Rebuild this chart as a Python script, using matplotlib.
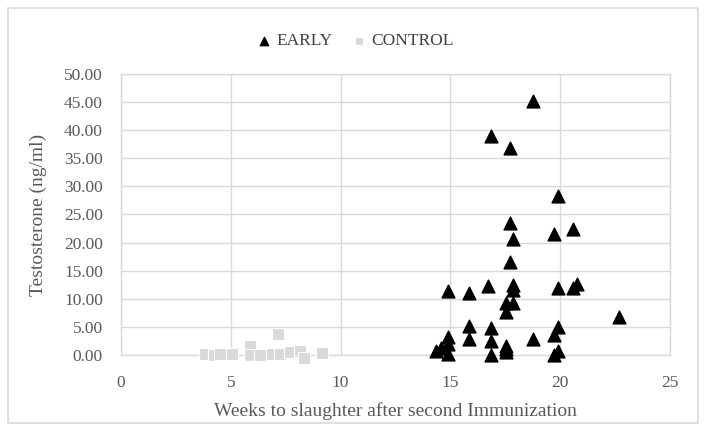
import numpy as np
from matplotlib import pyplot as plt
from matplotlib.patches import Rectangle

# EARLY group (weeks, testosterone ng/ml)
early_weeks = [18.75, 16.83, 17.73, 19.88, 17.73, 17.87, 19.70, 20.57, 17.73,
               14.88, 15.86, 16.71, 17.87, 17.87, 19.88, 20.60, 20.75,
               17.53, 17.87, 17.53, 22.70, 15.86, 16.83, 19.88, 19.70,
               18.75, 15.86, 16.83, 14.88, 14.88, 14.55, 14.35, 14.90,
               17.53, 17.53, 17.53, 16.83, 19.88, 19.70]
early_testo = [45.2, 39.0, 36.8, 28.2, 23.4, 20.6, 21.6, 22.5, 16.5,
               11.4, 11.0, 12.2, 12.4, 11.6, 12.0, 11.9, 12.6,
               9.3, 9.3, 7.7, 6.7, 5.2, 4.9, 5.0, 3.5,
               2.8, 2.8, 2.5, 3.3, 1.9, 1.3, 0.7, 0.2,
               1.7, 1.0, 0.5, 0.0, 0.7, 0.0]

# CONTROL group
control_weeks = [3.83, 4.23, 4.51, 5.04, 5.87, 5.87, 6.33, 6.86, 7.17, 7.24,
                 7.70, 8.15, 8.33, 9.14]
control_testo = [0.2, 0.0, 0.2, 0.2, 1.7, 0.0, 0.0, 0.2, 3.7, 0.2,
                 0.5, 0.8, -0.6, 0.3]

x_ticks = [0, 5, 10, 15, 20, 25]
y_ticks = [0, 5, 10, 15, 20, 25, 30, 35, 40, 45, 50]

plt.rcParams['font.family'] = ['Liberation Serif', 'DejaVu Serif']

fig = plt.figure(figsize=(7.09, 4.32), dpi=100)
ax = fig.add_axes([0.1707, 0.178, 0.7743, 0.651])

grid_col = '#d9d9d9'
ax.scatter(early_weeks, early_testo, marker='^', s=85, color='black',
           label='EARLY', zorder=3, clip_on=False)
ax.scatter(control_weeks, control_testo, marker='s', s=70, color='#d9d9d9',
           edgecolors='white', linewidths=0.8, label='CONTROL', zorder=3,
           clip_on=False)

ax.set_xlim(0, 25)
ax.set_ylim(0, 50)
ax.set_xticks(x_ticks)
ax.set_yticks(y_ticks)
ax.set_yticklabels(['%.2f' % v for v in y_ticks])
ax.grid(True, color=grid_col, linewidth=1.0)
ax.set_axisbelow(True)
for s in ax.spines.values():
    s.set_color(grid_col)
    s.set_linewidth(1.0)
ax.tick_params(length=0, labelsize=12.5, colors='#595959')
ax.tick_params(axis='y', pad=13)
ax.tick_params(axis='x', pad=14)

ax.set_xlabel('Weeks to slaughter after second Immunization', fontsize=14,
              color='#595959', labelpad=8)
ax.set_ylabel('Testosterone (ng/ml)', fontsize=14, color='#595959', labelpad=12)

leg = fig.legend(loc='upper center', bbox_to_anchor=(0.5, 0.96), ncol=2,
                 frameon=False, fontsize=12.5, handletextpad=0.2,
                 handlelength=1.0, columnspacing=1.0, markerscale=0.65)
for t in leg.get_texts():
    t.set_color('#404040')

# outer chart border
fig.patches.append(Rectangle((8 / 709, 9 / 432), 690 / 709, 415 / 432,
                             transform=fig.transFigure, fill=False,
                             edgecolor=grid_col, linewidth=1.2))

fig.savefig('out.png', dpi=100)
